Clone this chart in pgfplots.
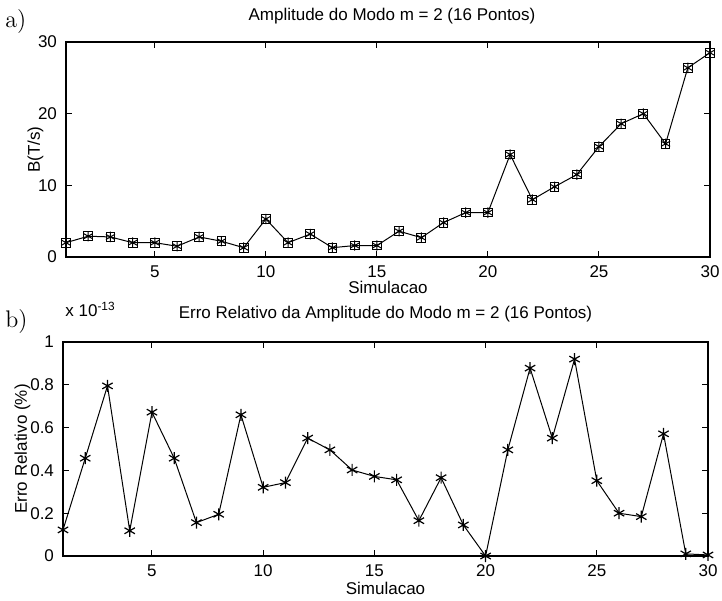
\documentclass[border=0pt]{standalone}
\usepackage{fontspec}
\newfontfamily\arial{Liberation Sans}
\usepackage{pgfplots}
\pgfplotsset{compat=1.18}

\pgfplotstableread{
x y
1 2.0
2 2.9
3 2.8
4 2.0
5 2.0
6 1.5
7 2.8
8 2.2
9 1.3
10 5.3
11 2.0
12 3.2
13 1.3
14 1.6
15 1.6
16 3.6
17 2.7
18 4.8
19 6.2
20 6.2
21 14.3
22 8.0
23 9.8
24 11.5
25 15.4
26 18.6
27 20.0
28 15.8
29 26.4
30 28.5
}\tabA

\pgfplotstableread{
x y
1 0.122
2 0.457
3 0.795
4 0.118
5 0.672
6 0.457
7 0.156
8 0.195
9 0.660
10 0.321
11 0.343
12 0.551
13 0.496
14 0.402
15 0.372
16 0.356
17 0.165
18 0.366
19 0.145
20 0.0
21 0.496
22 0.878
23 0.551
24 0.920
25 0.352
26 0.200
27 0.184
28 0.571
29 0.010
30 0.005
}\tabB

\begin{document}
\begin{tikzpicture}
\useasboundingbox (-33pt,-171.5pt) rectangle (328pt,128.5pt);
\pgfplotsset{
  every axis/.append style={
    scale only axis,
    xmin=1, xmax=30,
    xtick={5,10,...,30},
    tick align=inside,
    major tick length=3pt,
    minor tick num=0,
    clip=false,
    axis line style={line width=0.8pt},
    every tick/.style={line width=0.5pt, black},
    font=\arial\fontsize{8.5}{10}\selectfont,
    /pgf/number format/assume math mode=true,
    tick label style={font=\arial\fontsize{8.5}{10}\selectfont},
    xticklabel style={anchor=base, yshift=-10pt},
    yticklabel style={anchor=east, xshift=-1pt},
  }
}
% top axis
\begin{axis}[
  at={(0pt,0pt)}, anchor=south west,
  width=322pt, height=107.5pt,
  ymin=0, ymax=30, ytick={0,10,20,30},
  title={Amplitude do Modo m = 2 (16 Pontos)},
  title style={at={(axis description cs:0.5,1)}, anchor=base, yshift=5pt, xshift=2pt},
  xlabel={Simulacao},
  xlabel style={at={(axis description cs:0.5,-0.172)}, anchor=base},
  ylabel={B(T/s)},
  ylabel style={at={(axis description cs:-0.0404,0.5)}, anchor=base},
]
\addplot[black, line width=0.5pt, mark=asterisk, mark size=2.6pt, mark options={line width=0.5pt}] table[x=x,y=y] {\tabA};
\addplot[draw=none, mark=square, mark size=2.2pt, mark options={black, line width=0.5pt}] table[x=x,y=y] {\tabA};
\end{axis}
\node[anchor=base west, inner sep=0pt, font=\fontsize{12}{13}\selectfont] at (-30.5pt,114.5pt) {a)};
\node[anchor=base west, inner sep=0pt, font=\fontsize{12}{13}\selectfont] at (-30.5pt,-35pt) {b)};
% bottom axis
\begin{axis}[
  at={(-1.5pt,-149.5pt)}, anchor=south west,
  width=322.5pt, height=107pt,
  ymin=0, ymax=1, ytick={0,0.2,0.4,0.6,0.8,1},
  yticklabels={0,0.2,0.4,0.6,0.8,1},
  title={Erro Relativo da Amplitude do Modo m = 2 (16 Pontos)},
  title style={at={(axis description cs:0.5,1)}, anchor=base, yshift=6pt},
  xlabel={Simulacao},
  xlabel style={at={(axis description cs:0.5,-0.182)}, anchor=base},
  ylabel={Erro Relativo (\%)},
  ylabel style={at={(axis description cs:-0.056,0.5)}, anchor=base},
]
\addplot[black, line width=0.5pt, mark=asterisk, mark size=3pt, mark options={line width=0.6pt}] table[x=x,y=y] {\tabB};
\node[anchor=base west, inner sep=0pt, font=\arial\fontsize{8.5}{10}\selectfont] at (rel axis cs:0,1) [yshift=13pt, xshift=1pt] {x 10\textsuperscript{-13}};
\end{axis}
\end{tikzpicture}
\end{document}
